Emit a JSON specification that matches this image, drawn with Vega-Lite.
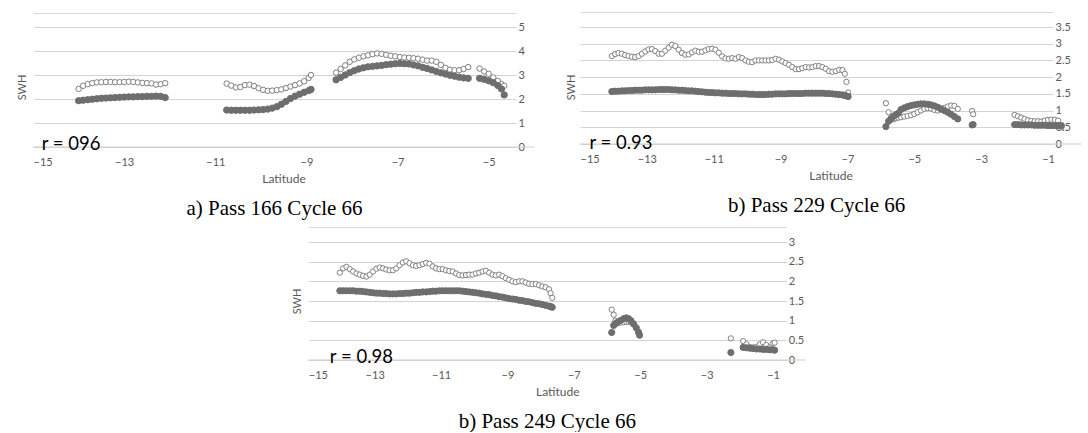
{
"$schema": "https://vega.github.io/schema/vega-lite/v6.json",
"background": "white",
"padding": {"left": 16, "top": 12, "right": 0, "bottom": 0},
"config": {
  "view": {"stroke": null},
  "font": "Lato",
  "axis": {"labelFont": "Lato", "labelFontSize": 11, "labelColor": "#595959", "titleFont": "Lato", "titleFontSize": 12, "titleFontWeight": "normal", "titleColor": "#595959", "gridColor": "#d4d4d4", "ticks": false, "domain": false},
  "axisX": {"grid": false},
  "axisY": {"grid": true, "format": "~g", "labelPadding": 2, "titleFontSize": 11, "titleAngle": 270, "titleAlign": "center", "titleBaseline": "middle"},
  "legend": {"labelFont": "Lato", "labelFontSize": 11, "labelColor": "#595959", "symbolSize": 26, "symbolStrokeWidth": 1, "symbolType": "circle", "padding": 0, "labelOffset": 4, "title": null},
  "title": {"font": "Liberation Serif", "fontSize": 21, "fontWeight": "normal", "color": "black", "anchor": "middle", "frame": "group"}
},
"datasets": {"d": [
{"p":1,"x":-14.0,"a":2.42,"s":1.93},{"p":1,"x":-13.9,"a":2.55,"s":1.95},{"p":1,"x":-13.8,"a":2.62,"s":1.97},{"p":1,"x":-13.7,"a":2.66,"s":1.99},{"p":1,"x":-13.6,"a":2.69,"s":2.01},{"p":1,"x":-13.5,"a":2.7,"s":2.03},{"p":1,"x":-13.4,"a":2.71,"s":2.04},{"p":1,"x":-13.3,"a":2.71,"s":2.05},{"p":1,"x":-13.2,"a":2.7,"s":2.06},{"p":1,"x":-13.1,"a":2.7,"s":2.07},{"p":1,"x":-13.0,"a":2.71,"s":2.08},{"p":1,"x":-12.9,"a":2.72,"s":2.09},{"p":1,"x":-12.8,"a":2.71,"s":2.09},{"p":1,"x":-12.7,"a":2.69,"s":2.1},{"p":1,"x":-12.6,"a":2.67,"s":2.1},{"p":1,"x":-12.5,"a":2.66,"s":2.11},{"p":1,"x":-12.4,"a":2.65,"s":2.11},{"p":1,"x":-12.3,"a":2.6,"s":2.12},{"p":1,"x":-12.2,"a":2.62,"s":2.11},{"p":1,"x":-12.1,"a":2.66,"s":2.06},
{"p":1,"x":-10.75,"a":2.64,"s":1.54},{"p":1,"x":-10.65,"a":2.56,"s":1.53},{"p":1,"x":-10.55,"a":2.48,"s":1.53},{"p":1,"x":-10.45,"a":2.5,"s":1.53},{"p":1,"x":-10.35,"a":2.58,"s":1.53},{"p":1,"x":-10.25,"a":2.6,"s":1.53},{"p":1,"x":-10.15,"a":2.54,"s":1.54},{"p":1,"x":-10.05,"a":2.45,"s":1.55},{"p":1,"x":-9.95,"a":2.38,"s":1.56},{"p":1,"x":-9.85,"a":2.34,"s":1.58},{"p":1,"x":-9.75,"a":2.35,"s":1.62},{"p":1,"x":-9.65,"a":2.37,"s":1.68},{"p":1,"x":-9.55,"a":2.4,"s":1.78},{"p":1,"x":-9.45,"a":2.46,"s":1.9},{"p":1,"x":-9.35,"a":2.52,"s":2.02},{"p":1,"x":-9.25,"a":2.58,"s":2.12},{"p":1,"x":-9.15,"a":2.65,"s":2.2},{"p":1,"x":-9.05,"a":2.74,"s":2.28},{"p":1,"x":-8.95,"a":2.88,"s":2.35},{"p":1,"x":-8.9,"a":3.0,"s":2.4},
{"p":1,"x":-8.35,"a":3.1,"s":2.8},{"p":1,"x":-8.25,"a":3.25,"s":2.9},{"p":1,"x":-8.15,"a":3.4,"s":3.0},{"p":1,"x":-8.05,"a":3.55,"s":3.1},{"p":1,"x":-7.95,"a":3.65,"s":3.18},{"p":1,"x":-7.85,"a":3.72,"s":3.25},{"p":1,"x":-7.75,"a":3.78,"s":3.3},{"p":1,"x":-7.65,"a":3.82,"s":3.34},{"p":1,"x":-7.55,"a":3.87,"s":3.36},{"p":1,"x":-7.45,"a":3.9,"s":3.38},{"p":1,"x":-7.35,"a":3.88,"s":3.4},{"p":1,"x":-7.25,"a":3.84,"s":3.43},{"p":1,"x":-7.15,"a":3.8,"s":3.45},{"p":1,"x":-7.05,"a":3.78,"s":3.47},{"p":1,"x":-6.95,"a":3.75,"s":3.48},{"p":1,"x":-6.85,"a":3.73,"s":3.47},{"p":1,"x":-6.75,"a":3.72,"s":3.46},{"p":1,"x":-6.65,"a":3.7,"s":3.42},{"p":1,"x":-6.55,"a":3.68,"s":3.38},{"p":1,"x":-6.45,"a":3.64,"s":3.32},{"p":1,"x":-6.35,"a":3.6,"s":3.27},{"p":1,"x":-6.25,"a":3.6,"s":3.21},{"p":1,"x":-6.15,"a":3.55,"s":3.15},{"p":1,"x":-6.05,"a":3.42,"s":3.09},{"p":1,"x":-5.95,"a":3.3,"s":3.04},{"p":1,"x":-5.85,"a":3.22,"s":2.99},{"p":1,"x":-5.75,"a":3.2,"s":2.95},{"p":1,"x":-5.65,"a":3.2,"s":2.91},{"p":1,"x":-5.55,"a":3.25,"s":2.88},{"p":1,"x":-5.45,"a":3.33,"s":2.86},
{"p":1,"x":-5.2,"a":3.27,"s":2.86},{"p":1,"x":-5.1,"a":3.15,"s":2.82},{"p":1,"x":-5.0,"a":3.05,"s":2.76},{"p":1,"x":-4.9,"a":2.9,"s":2.68},{"p":1,"x":-4.8,"a":2.75,"s":2.56},{"p":1,"x":-4.72,"a":2.62,"s":2.42},{"p":1,"x":-4.66,"a":2.55,"s":2.17},
{"p":2,"x":-14.05,"a":2.63,"s":1.57},{"p":2,"x":-13.95,"a":2.69,"s":1.58},{"p":2,"x":-13.85,"a":2.72,"s":1.58},{"p":2,"x":-13.75,"a":2.7,"s":1.59},{"p":2,"x":-13.65,"a":2.66,"s":1.59},{"p":2,"x":-13.55,"a":2.63,"s":1.6},{"p":2,"x":-13.45,"a":2.61,"s":1.6},{"p":2,"x":-13.35,"a":2.6,"s":1.61},{"p":2,"x":-13.25,"a":2.63,"s":1.61},{"p":2,"x":-13.15,"a":2.7,"s":1.61},{"p":2,"x":-13.05,"a":2.77,"s":1.62},{"p":2,"x":-12.95,"a":2.83,"s":1.62},{"p":2,"x":-12.85,"a":2.84,"s":1.62},{"p":2,"x":-12.75,"a":2.78,"s":1.62},{"p":2,"x":-12.65,"a":2.7,"s":1.63},{"p":2,"x":-12.55,"a":2.7,"s":1.63},{"p":2,"x":-12.45,"a":2.79,"s":1.63},{"p":2,"x":-12.35,"a":2.88,"s":1.63},{"p":2,"x":-12.25,"a":2.97,"s":1.62},{"p":2,"x":-12.15,"a":2.93,"s":1.62},{"p":2,"x":-12.05,"a":2.82,"s":1.61},{"p":2,"x":-11.95,"a":2.72,"s":1.61},{"p":2,"x":-11.85,"a":2.67,"s":1.6},{"p":2,"x":-11.75,"a":2.68,"s":1.59},{"p":2,"x":-11.65,"a":2.74,"s":1.59},{"p":2,"x":-11.55,"a":2.79,"s":1.58},{"p":2,"x":-11.45,"a":2.76,"s":1.57},{"p":2,"x":-11.35,"a":2.76,"s":1.56},{"p":2,"x":-11.25,"a":2.8,"s":1.55},{"p":2,"x":-11.15,"a":2.84,"s":1.54},{"p":2,"x":-11.05,"a":2.85,"s":1.54},{"p":2,"x":-10.95,"a":2.82,"s":1.53},{"p":2,"x":-10.85,"a":2.73,"s":1.53},{"p":2,"x":-10.75,"a":2.62,"s":1.52},{"p":2,"x":-10.65,"a":2.56,"s":1.52},{"p":2,"x":-10.55,"a":2.55,"s":1.51},{"p":2,"x":-10.45,"a":2.57,"s":1.51},{"p":2,"x":-10.35,"a":2.55,"s":1.51},{"p":2,"x":-10.25,"a":2.6,"s":1.5},{"p":2,"x":-10.15,"a":2.57,"s":1.5},{"p":2,"x":-10.05,"a":2.5,"s":1.5},{"p":2,"x":-9.95,"a":2.46,"s":1.49},{"p":2,"x":-9.85,"a":2.45,"s":1.49},{"p":2,"x":-9.75,"a":2.5,"s":1.48},{"p":2,"x":-9.65,"a":2.5,"s":1.48},{"p":2,"x":-9.55,"a":2.5,"s":1.48},{"p":2,"x":-9.45,"a":2.5,"s":1.48},{"p":2,"x":-9.35,"a":2.5,"s":1.49},{"p":2,"x":-9.25,"a":2.51,"s":1.49},{"p":2,"x":-9.15,"a":2.55,"s":1.5},{"p":2,"x":-9.05,"a":2.52,"s":1.5},{"p":2,"x":-8.95,"a":2.47,"s":1.5},{"p":2,"x":-8.85,"a":2.42,"s":1.5},{"p":2,"x":-8.75,"a":2.37,"s":1.51},{"p":2,"x":-8.65,"a":2.3,"s":1.51},{"p":2,"x":-8.55,"a":2.24,"s":1.51},{"p":2,"x":-8.45,"a":2.24,"s":1.51},{"p":2,"x":-8.35,"a":2.27,"s":1.51},{"p":2,"x":-8.25,"a":2.3,"s":1.52},{"p":2,"x":-8.15,"a":2.29,"s":1.52},{"p":2,"x":-8.05,"a":2.3,"s":1.52},{"p":2,"x":-7.95,"a":2.33,"s":1.52},{"p":2,"x":-7.85,"a":2.33,"s":1.52},{"p":2,"x":-7.75,"a":2.3,"s":1.52},{"p":2,"x":-7.65,"a":2.25,"s":1.51},{"p":2,"x":-7.55,"a":2.18,"s":1.51},{"p":2,"x":-7.45,"a":2.16,"s":1.5},{"p":2,"x":-7.35,"a":2.18,"s":1.49},{"p":2,"x":-7.25,"a":2.22,"s":1.48},{"p":2,"x":-7.15,"a":2.21,"s":1.47},{"p":2,"x":-7.08,"a":2.1,"s":1.45},{"p":2,"x":-7.03,"a":1.86,"s":1.44},{"p":2,"x":-6.98,"a":1.54,"s":1.42},
{"p":2,"x":-5.85,"a":1.22,"s":0.52},{"p":2,"x":-5.77,"a":0.95,"s":0.68},{"p":2,"x":-5.7,"a":0.72,"s":0.76},{"p":2,"x":-5.62,"a":0.74,"s":0.83},{"p":2,"x":-5.55,"a":0.77,"s":0.88},{"p":2,"x":-5.48,"a":0.79,"s":0.92},{"p":2,"x":-5.4,"a":0.8,"s":1.03},{"p":2,"x":-5.3,"a":0.82,"s":1.08},{"p":2,"x":-5.2,"a":0.84,"s":1.12},{"p":2,"x":-5.1,"a":0.86,"s":1.15},{"p":2,"x":-5.0,"a":0.9,"s":1.17},{"p":2,"x":-4.9,"a":0.95,"s":1.19},{"p":2,"x":-4.8,"a":1.0,"s":1.2},{"p":2,"x":-4.7,"a":1.05,"s":1.2},{"p":2,"x":-4.6,"a":1.07,"s":1.19},{"p":2,"x":-4.5,"a":1.06,"s":1.17},{"p":2,"x":-4.4,"a":1.02,"s":1.14},{"p":2,"x":-4.3,"a":1.0,"s":1.1},{"p":2,"x":-4.2,"a":1.03,"s":1.05},{"p":2,"x":-4.1,"a":1.08,"s":1.0},{"p":2,"x":-4.0,"a":1.12,"s":0.95},{"p":2,"x":-3.9,"a":1.15,"s":0.89},{"p":2,"x":-3.8,"a":1.14,"s":0.82},{"p":2,"x":-3.7,"a":1.05,"s":0.75},{"p":2,"x":-3.27,"a":0.99,"s":0.57},{"p":2,"x":-3.24,"a":0.89,"s":0.58},
{"p":2,"x":-2.0,"a":0.87,"s":0.58},{"p":2,"x":-1.9,"a":0.83,"s":0.58},{"p":2,"x":-1.8,"a":0.79,"s":0.57},{"p":2,"x":-1.7,"a":0.75,"s":0.57},{"p":2,"x":-1.6,"a":0.71,"s":0.57},{"p":2,"x":-1.5,"a":0.69,"s":0.57},{"p":2,"x":-1.4,"a":0.68,"s":0.56},{"p":2,"x":-1.3,"a":0.68,"s":0.56},{"p":2,"x":-1.2,"a":0.67,"s":0.56},{"p":2,"x":-1.1,"a":0.7,"s":0.56},{"p":2,"x":-1.0,"a":0.72,"s":0.55},{"p":2,"x":-0.9,"a":0.73,"s":0.55},{"p":2,"x":-0.8,"a":0.72,"s":0.55},{"p":2,"x":-0.7,"a":0.7,"s":0.55},{"p":2,"x":-0.6,"a":0.5,"s":0.55},
{"p":3,"x":-14.05,"a":2.22,"s":1.76},{"p":3,"x":-13.95,"a":2.33,"s":1.76},{"p":3,"x":-13.85,"a":2.37,"s":1.76},{"p":3,"x":-13.75,"a":2.31,"s":1.76},{"p":3,"x":-13.65,"a":2.25,"s":1.76},{"p":3,"x":-13.55,"a":2.2,"s":1.75},{"p":3,"x":-13.45,"a":2.17,"s":1.75},{"p":3,"x":-13.35,"a":2.14,"s":1.74},{"p":3,"x":-13.25,"a":2.12,"s":1.73},{"p":3,"x":-13.15,"a":2.17,"s":1.72},{"p":3,"x":-13.05,"a":2.25,"s":1.71},{"p":3,"x":-12.95,"a":2.32,"s":1.7},{"p":3,"x":-12.85,"a":2.35,"s":1.7},{"p":3,"x":-12.75,"a":2.33,"s":1.69},{"p":3,"x":-12.65,"a":2.3,"s":1.69},{"p":3,"x":-12.55,"a":2.28,"s":1.68},{"p":3,"x":-12.45,"a":2.28,"s":1.68},{"p":3,"x":-12.35,"a":2.33,"s":1.68},{"p":3,"x":-12.25,"a":2.41,"s":1.69},{"p":3,"x":-12.15,"a":2.48,"s":1.69},{"p":3,"x":-12.05,"a":2.51,"s":1.7},{"p":3,"x":-11.95,"a":2.46,"s":1.7},{"p":3,"x":-11.85,"a":2.41,"s":1.71},{"p":3,"x":-11.75,"a":2.39,"s":1.72},{"p":3,"x":-11.65,"a":2.41,"s":1.72},{"p":3,"x":-11.55,"a":2.44,"s":1.73},{"p":3,"x":-11.45,"a":2.47,"s":1.73},{"p":3,"x":-11.35,"a":2.45,"s":1.74},{"p":3,"x":-11.25,"a":2.38,"s":1.75},{"p":3,"x":-11.15,"a":2.33,"s":1.75},{"p":3,"x":-11.05,"a":2.31,"s":1.76},{"p":3,"x":-10.95,"a":2.31,"s":1.76},{"p":3,"x":-10.85,"a":2.28,"s":1.76},{"p":3,"x":-10.75,"a":2.26,"s":1.76},{"p":3,"x":-10.65,"a":2.25,"s":1.76},{"p":3,"x":-10.55,"a":2.2,"s":1.76},{"p":3,"x":-10.45,"a":2.16,"s":1.76},{"p":3,"x":-10.35,"a":2.15,"s":1.75},{"p":3,"x":-10.25,"a":2.16,"s":1.74},{"p":3,"x":-10.15,"a":2.17,"s":1.73},{"p":3,"x":-10.05,"a":2.17,"s":1.72},{"p":3,"x":-9.95,"a":2.2,"s":1.71},{"p":3,"x":-9.85,"a":2.22,"s":1.7},{"p":3,"x":-9.75,"a":2.25,"s":1.68},{"p":3,"x":-9.65,"a":2.27,"s":1.67},{"p":3,"x":-9.55,"a":2.22,"s":1.66},{"p":3,"x":-9.45,"a":2.17,"s":1.64},{"p":3,"x":-9.35,"a":2.15,"s":1.63},{"p":3,"x":-9.25,"a":2.17,"s":1.61},{"p":3,"x":-9.15,"a":2.13,"s":1.6},{"p":3,"x":-9.05,"a":2.08,"s":1.58},{"p":3,"x":-8.95,"a":2.04,"s":1.56},{"p":3,"x":-8.85,"a":2.0,"s":1.55},{"p":3,"x":-8.75,"a":1.98,"s":1.54},{"p":3,"x":-8.65,"a":2.0,"s":1.52},{"p":3,"x":-8.55,"a":2.0,"s":1.51},{"p":3,"x":-8.45,"a":1.97,"s":1.49},{"p":3,"x":-8.35,"a":1.94,"s":1.48},{"p":3,"x":-8.25,"a":1.93,"s":1.46},{"p":3,"x":-8.15,"a":1.93,"s":1.44},{"p":3,"x":-8.05,"a":1.9,"s":1.43},{"p":3,"x":-7.95,"a":1.87,"s":1.41},{"p":3,"x":-7.85,"a":1.85,"s":1.39},{"p":3,"x":-7.75,"a":1.8,"s":1.37},{"p":3,"x":-7.7,"a":1.7,"s":1.36},{"p":3,"x":-7.65,"a":1.58,"s":1.34},
{"p":3,"x":-5.86,"a":1.28,"s":0.7},{"p":3,"x":-5.8,"a":1.15,"s":0.88},{"p":3,"x":-5.75,"a":1.0,"s":0.92},{"p":3,"x":-5.7,"a":0.95,"s":0.95},{"p":3,"x":-5.6,"a":0.95,"s":1.0},{"p":3,"x":-5.5,"a":0.96,"s":1.05},{"p":3,"x":-5.42,"a":0.97,"s":1.07},{"p":3,"x":-5.35,"a":0.97,"s":1.05},{"p":3,"x":-5.28,"a":0.96,"s":1.0},{"p":3,"x":-5.2,"a":0.9,"s":0.92},{"p":3,"x":-5.12,"a":0.82,"s":0.82},{"p":3,"x":-5.05,"a":0.72,"s":0.7},{"p":3,"x":-5.02,"a":null,"s":0.63},
{"p":3,"x":-2.27,"a":0.55,"s":0.19},{"p":3,"x":-1.9,"a":0.48,"s":0.32},{"p":3,"x":-1.8,"a":0.4,"s":0.31},{"p":3,"x":-1.7,"a":0.33,"s":0.3},{"p":3,"x":-1.6,"a":0.32,"s":0.29},{"p":3,"x":-1.5,"a":0.33,"s":0.28},{"p":3,"x":-1.4,"a":0.4,"s":0.28},{"p":3,"x":-1.3,"a":0.45,"s":0.27},{"p":3,"x":-1.2,"a":0.38,"s":0.27},{"p":3,"x":-1.1,"a":0.32,"s":0.26},{"p":3,"x":-1.0,"a":0.42,"s":0.26},{"p":3,"x":-0.95,"a":0.44,"s":0.25}
]},
"resolve": {"scale": {"fill": "independent", "stroke": "independent", "size": "independent"}},
"center": true,
"spacing": 8,
"vconcat": [
{
 "hconcat": [
  {
   "width": 483, "height": 120,
   "title": {"text": "a) Pass 166 Cycle 66", "orient": "bottom", "offset": 14},
   "resolve": {"axis": {"x": "independent"}},
   "layer": [
    {
     "data": {"name": "d"},
     "transform": [{"filter": "datum.p == 1"}, {"fold": ["a", "s"], "as": ["k", "v"]}, {"filter": "datum.v != null"}],
     "mark": {"type": "point", "shape": "circle", "strokeWidth": 1, "opacity": 1, "fillOpacity": 1},
     "encoding": {
      "x": {"field": "x", "type": "quantitative", "scale": {"domain": [-15, -4.4], "nice": false, "zero": false}, "axis": {"orient": "bottom", "values": [-15, -13, -11, -9, -7, -5], "labelPadding": 9, "title": "Latitude", "titlePadding": 6, "titleX": 250.5}},
      "y": {"field": "v", "type": "quantitative", "scale": {"domain": [0, 5], "nice": false}, "axis": {"orient": "right", "values": [0, 1, 2, 3, 4, 5], "title": "SWH", "titleX": -493.5, "titleY": 60}},
      "fill": {"field": "k", "type": "nominal", "scale": {"domain": ["a", "s"], "range": ["#ffffff", "#6e6e6e"]}, "legend": {"orient": "none", "legendX": 405, "legendY": 1, "rowPadding": 3, "labelExpr": "datum.label == 'a' ? 'Altimetry' : 'SWAN Model'"}},
      "stroke": {"field": "k", "type": "nominal", "scale": {"domain": ["a", "s"], "range": ["#808080", "#6e6e6e"]}, "legend": {"orient": "none", "legendX": 405, "legendY": 1, "rowPadding": 3, "labelExpr": "datum.label == 'a' ? 'Altimetry' : 'SWAN Model'"}},
      "size": {"field": "k", "type": "nominal", "scale": {"domain": ["a", "s"], "range": [30, 40]}, "legend": null},
      "order": {"field": "k", "type": "ordinal"}
     }
    },
    {
     "data": {"values": [{}]},
     "mark": {"type": "rule", "color": "#cfcfcf", "strokeWidth": 1},
     "encoding": {
      "x": {"datum": -15, "type": "quantitative", "scale": {"domain": [-15, -4.4], "nice": false, "zero": false}, "axis": {"orient": "top", "labels": false, "ticks": false, "grid": false, "domain": true, "domainColor": "#d9d9d9", "offset": 14, "title": null}},
      "x2": {"datum": -4},
      "y": {"datum": 0, "type": "quantitative", "scale": {"domain": [0, 5], "nice": false}, "axis": {"orient": "right", "values": [0, 1, 2, 3, 4, 5], "title": "SWH", "titleX": -493.5, "titleY": 60}}
     }
    },
    {
     "data": {"values": [{}]},
     "mark": {"type": "text", "text": "r = 096", "font": "Lato", "fontSize": 18.5, "align": "left", "baseline": "alphabetic", "dy": 3, "color": "black"},
     "encoding": {
      "x": {"datum": -14.81, "type": "quantitative", "axis": null},
      "y": {"datum": 0, "type": "quantitative", "axis": {"orient": "right", "values": [0, 1, 2, 3, 4, 5], "title": "SWH", "titleX": -493.5, "titleY": 60}}
     }
    }
   ]
  },
  {
   "width": 473, "height": 117,
   "title": {"text": "b) Pass 229 Cycle 66", "orient": "bottom", "offset": 14},
   "resolve": {"axis": {"x": "independent"}},
   "layer": [
    {
     "data": {"name": "d"},
     "transform": [{"filter": "datum.p == 2"}, {"fold": ["a", "s"], "as": ["k", "v"]}, {"filter": "datum.v != null"}],
     "mark": {"type": "point", "shape": "circle", "strokeWidth": 1, "opacity": 1, "fillOpacity": 1},
     "encoding": {
      "x": {"field": "x", "type": "quantitative", "scale": {"domain": [-15, -0.85], "nice": false, "zero": false}, "axis": {"orient": "bottom", "values": [-15, -13, -11, -9, -7, -5, -3, -1], "labelPadding": 9, "title": "Latitude", "titlePadding": 6, "titleX": 250.5}},
      "y": {"field": "v", "type": "quantitative", "scale": {"domain": [0, 3.5], "nice": false}, "axis": {"orient": "right", "values": [0, 0.5, 1, 1.5, 2, 2.5, 3, 3.5], "title": "SWH", "titleX": -482, "titleY": 60}},
      "fill": {"field": "k", "type": "nominal", "scale": {"domain": ["a", "s"], "range": ["#ffffff", "#6e6e6e"]}, "legend": {"orient": "none", "legendX": 391, "legendY": 2, "rowPadding": 5, "labelExpr": "datum.label == 'a' ? 'Altimetry' : 'SWAN Model'"}},
      "stroke": {"field": "k", "type": "nominal", "scale": {"domain": ["a", "s"], "range": ["#808080", "#6e6e6e"]}, "legend": {"orient": "none", "legendX": 391, "legendY": 2, "rowPadding": 5, "labelExpr": "datum.label == 'a' ? 'Altimetry' : 'SWAN Model'"}},
      "size": {"field": "k", "type": "nominal", "scale": {"domain": ["a", "s"], "range": [28, 38]}, "legend": null},
      "order": {"field": "k", "type": "ordinal"}
     }
    },
    {
     "data": {"values": [{}]},
     "mark": {"type": "rule", "color": "#cfcfcf", "strokeWidth": 1},
     "encoding": {
      "x": {"datum": -15, "type": "quantitative", "scale": {"domain": [-15, -0.85], "nice": false, "zero": false}, "axis": {"orient": "top", "labels": false, "ticks": false, "grid": false, "domain": true, "domainColor": "#d9d9d9", "offset": 15, "title": null}},
      "x2": {"datum": 0},
      "y": {"datum": 0, "type": "quantitative", "scale": {"domain": [0, 3.5], "nice": false}, "axis": {"orient": "right", "values": [0, 0.5, 1, 1.5, 2, 2.5, 3, 3.5], "title": "SWH", "titleX": -482, "titleY": 60}}
     }
    },
    {
     "data": {"values": [{}]},
     "mark": {"type": "text", "text": "r = 0.93", "font": "Lato", "fontSize": 18.5, "align": "left", "baseline": "alphabetic", "dy": 5, "color": "black"},
     "encoding": {
      "x": {"datum": -14.72, "type": "quantitative", "axis": null},
      "y": {"datum": 0, "type": "quantitative", "axis": {"orient": "right", "values": [0, 0.5, 1, 1.5, 2, 2.5, 3, 3.5], "title": "SWH", "titleX": -482, "titleY": 60}}
     }
    }
   ]
  }
 ],
 "spacing": 30,
 "resolve": {"scale": {"fill": "independent", "stroke": "independent", "size": "independent"}}
},
{
 "width": 478, "height": 118,
 "title": {"text": "b) Pass 249 Cycle 66", "orient": "bottom", "offset": 14},
 "resolve": {"axis": {"x": "independent"}},
 "layer": [
  {
   "data": {"name": "d"},
   "transform": [{"filter": "datum.p == 3"}, {"fold": ["a", "s"], "as": ["k", "v"]}, {"filter": "datum.v != null"}],
   "mark": {"type": "point", "shape": "circle", "strokeWidth": 1, "opacity": 1, "fillOpacity": 1},
   "encoding": {
    "x": {"field": "x", "type": "quantitative", "scale": {"domain": [-15, -0.6], "nice": false, "zero": false}, "axis": {"orient": "bottom", "values": [-15, -13, -11, -9, -7, -5, -3, -1], "labelPadding": 9, "title": "Latitude", "titlePadding": 6, "titleX": 249}},
    "y": {"field": "v", "type": "quantitative", "scale": {"domain": [0, 3], "nice": false}, "axis": {"orient": "right", "values": [0, 0.5, 1, 1.5, 2, 2.5, 3], "title": "SWH", "titleX": -489, "titleY": 59}},
    "fill": {"field": "k", "type": "nominal", "scale": {"domain": ["a", "s"], "range": ["#ffffff", "#6e6e6e"]}, "legend": {"orient": "none", "legendX": 387, "legendY": -2, "rowPadding": 3, "labelExpr": "datum.label == 'a' ? 'Altimetry' : 'SWAN Model'"}},
    "stroke": {"field": "k", "type": "nominal", "scale": {"domain": ["a", "s"], "range": ["#808080", "#6e6e6e"]}, "legend": {"orient": "none", "legendX": 387, "legendY": -2, "rowPadding": 3, "labelExpr": "datum.label == 'a' ? 'Altimetry' : 'SWAN Model'"}},
    "size": {"field": "k", "type": "nominal", "scale": {"domain": ["a", "s"], "range": [28, 38]}, "legend": null},
    "order": {"field": "k", "type": "ordinal"}
   }
  },
  {
   "data": {"values": [{}]},
   "mark": {"type": "rule", "color": "#cfcfcf", "strokeWidth": 1},
   "encoding": {
    "x": {"datum": -15, "type": "quantitative", "scale": {"domain": [-15, -0.6], "nice": false, "zero": false}, "axis": {"orient": "top", "labels": false, "ticks": false, "grid": false, "domain": true, "domainColor": "#d9d9d9", "offset": 15, "title": null}},
    "x2": {"datum": 0},
    "y": {"datum": 0, "type": "quantitative", "scale": {"domain": [0, 3], "nice": false}, "axis": {"orient": "right", "values": [0, 0.5, 1, 1.5, 2, 2.5, 3], "title": "SWH", "titleX": -489, "titleY": 59}}
   }
  },
  {
   "data": {"values": [{}]},
   "mark": {"type": "text", "text": "r = 0.98", "font": "Lato", "fontSize": 18.5, "align": "left", "baseline": "alphabetic", "dy": 3, "color": "black"},
   "encoding": {
    "x": {"datum": -14.35, "type": "quantitative", "axis": null},
    "y": {"datum": 0, "type": "quantitative", "axis": {"orient": "right", "values": [0, 0.5, 1, 1.5, 2, 2.5, 3], "title": "SWH", "titleX": -489, "titleY": 59}}
   }
  }
 ]
}
]
}
